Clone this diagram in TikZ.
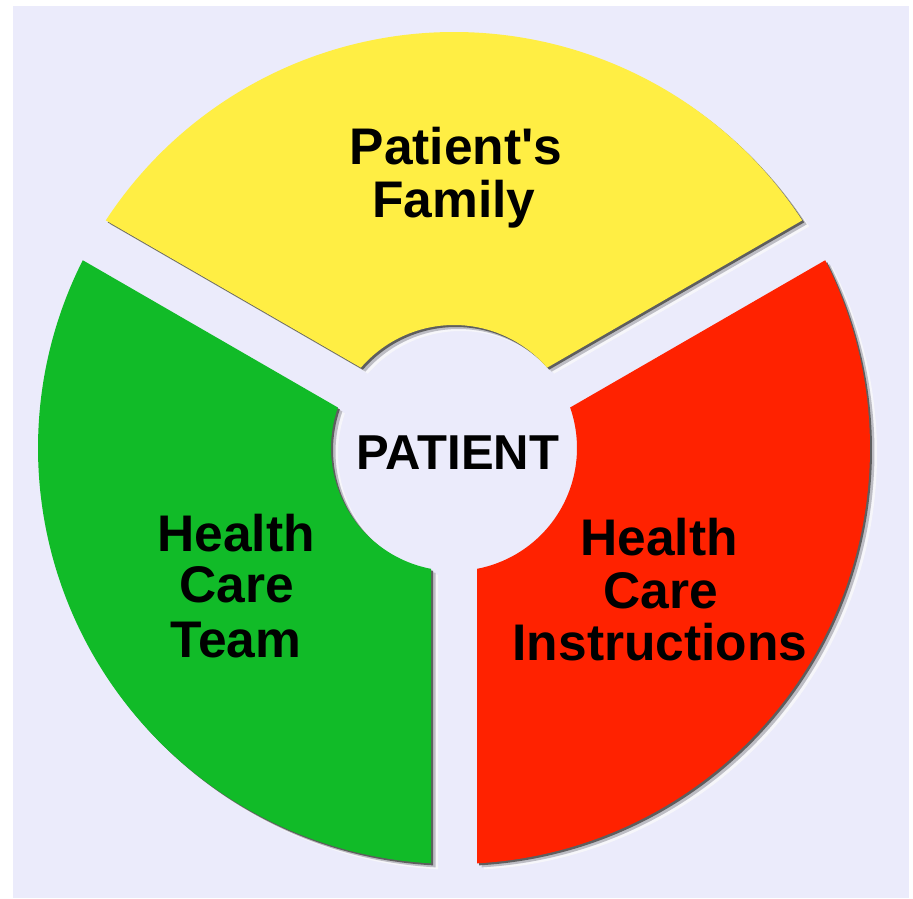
\documentclass[tikz,border=0pt]{standalone}
\usepackage{fontspec}
\setmainfont{Liberation Sans}
\newfontfamily\labelfont{Liberation Sans}
\definecolor{bgpanel}{HTML}{EBEBFB}
\definecolor{famyellow}{HTML}{FFEE44}
\definecolor{teamgreen}{HTML}{11BB28}
\definecolor{instrred}{HTML}{FF2200}
\definecolor{shadowdark}{HTML}{5E5E5E}
\definecolor{shadowmid}{HTML}{BDBDC4}
\definecolor{shadowlight}{HTML}{F6F6FA}
% annulus sector between the gap rays #1 and #2 (degrees, counter-clockwise)
\newcommand\wheelseg[2]{(#1+3.17:416) arc[start angle=#1+3.17, end angle=#2-3.17, radius=416] -- (#2-10.78:123) arc[start angle=#2-10.78, end angle=#1+10.78, radius=123] -- cycle}
\tikzset{
  lbl/.style={font=\labelfont\bfseries\fontsize{25.75}{26.25}\selectfont, text=black, inner sep=0pt, anchor=base},
  shL/.style={fill=shadowlight, shift={(7,-6)}},
  shM/.style={fill=shadowmid, shift={(4.5,-4)}},
  shD/.style={fill=shadowdark, shift={(2,-2)}},
}
\begin{document}
\begin{tikzpicture}[x=0.5pt,y=0.5pt]
\fill[white] (-454,-450) rectangle (459,448);
\fill[bgpanel] (-441,-450) rectangle (455,442);
\useasboundingbox (-454,-450) rectangle (459,448);
% shadows
\foreach \a/\b in {30/150, 150/270, -90/30}{
  \path[shL] \wheelseg{\a}{\b};
  \path[shM] \wheelseg{\a}{\b};
  \path[shD] \wheelseg{\a}{\b};
}
% segments
\path[fill=famyellow] \wheelseg{30}{150};
\path[fill=teamgreen] \wheelseg{150}{270};
\path[fill=instrred] \wheelseg{-90}{30};
% labels
\node[lbl] (fam1) at (2,283) {Patient's};
\node[lbl] (fam2) at (0,230) {Family};
\node[lbl] (team1) at (-218,-104) {Health};
\node[lbl] (team2) at (-217,-154) {Care};
\node[lbl] (team3) at (-218,-209) {Team};
\node[lbl] (ins1) at (205,-107) {Health};
\node[lbl] (ins2) at (207,-160) {Care};
\node[lbl] (ins3) at (206,-212) {Instructions};
\node[lbl, font=\labelfont\bfseries\fontsize{24.5}{26}\selectfont] (patient) at (4,-22) {PATIENT};
\end{tikzpicture}
\end{document}
